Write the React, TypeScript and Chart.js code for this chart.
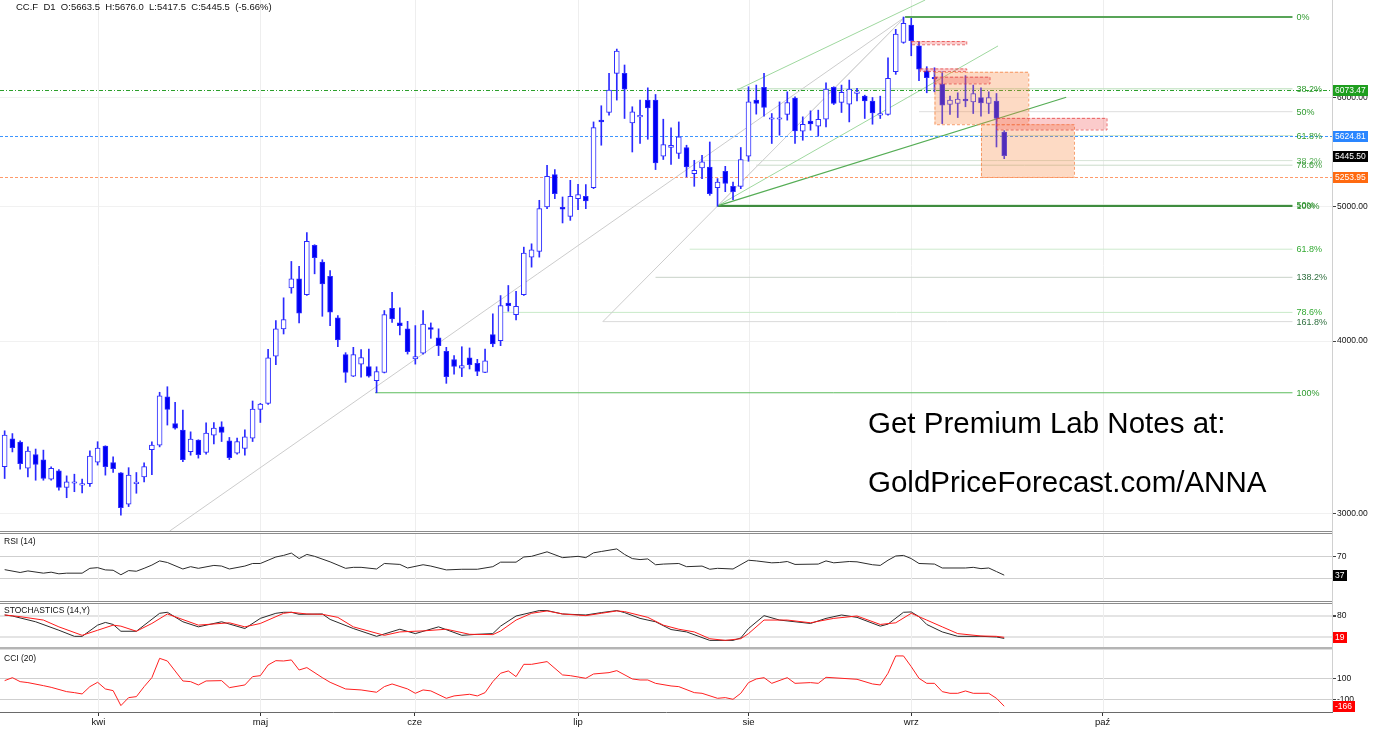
import React, { useEffect, useRef } from 'react';
import { Chart, registerables } from 'chart.js';

Chart.register(...registerables);

// ---------------- data ----------------
const candleOpen = [
  3246, 3399, 3381, 3237, 3312, 3282, 3179, 3223, 3135, 3157,
  3147, 3155, 3270, 3358, 3268, 3212, 3049, 3155, 3191, 3339,
  3364, 3645, 3487, 3449, 3328, 3392, 3323, 3420, 3468, 3388,
  3319, 3345, 3403, 3570, 3606, 3900, 4082, 4370, 4436, 4320,
  4690, 4561, 4455, 4157, 3910, 3772, 3849, 3834, 3744, 3796,
  4224, 4122, 4082, 3882, 3920, 4090, 4021, 3932, 3878, 3824,
  3889, 3854, 3796, 4043, 4002, 4260, 4180, 4320, 4599, 4643,
  4999, 5276, 4996, 4922, 5069, 5089, 5163, 5776, 5850, 6243,
  6243, 5750, 5808, 5972, 5972, 5439, 5519, 5465, 5519, 5285,
  5335, 5343, 5163, 5305, 5174, 5174, 5439, 5972, 6100, 5785,
  5785, 5831, 5991, 5671, 5766, 5718, 5785, 6100, 5948, 5932,
  6039, 6011, 5962, 5824, 5831, 6260, 6574, 6766, 6537, 6270,
  6202, 6133, 5929, 5938, 5982, 5954, 5998, 5938, 5962, 5663.5,
];
const candleHigh = [
  3445, 3429, 3388, 3354, 3342, 3336, 3244, 3230, 3196, 3205,
  3179, 3332, 3383, 3360, 3299, 3214, 3240, 3214, 3266, 3383,
  3673, 3707, 3612, 3566, 3439, 3394, 3491, 3493, 3497, 3407,
  3403, 3451, 3620, 3606, 3945, 4138, 4298, 4566, 4530, 4790,
  4695, 4579, 4498, 4173, 3923, 3958, 3943, 3947, 3832, 4208,
  4338, 4227, 4133, 4104, 4208, 4122, 4082, 3958, 3904, 3962,
  3954, 3880, 3947, 4185, 4314, 4387, 4345, 4676, 4702, 5055,
  5358, 5320, 5083, 5226, 5191, 5189, 5759, 5916, 6243, 6501,
  6331, 5906, 5972, 6095, 6028, 5785, 5702, 5759, 5540, 5403,
  5448, 5570, 5241, 5349, 5211, 5519, 6106, 6123, 6243, 5840,
  5954, 6055, 6005, 5808, 5866, 5873, 6146, 6106, 6123, 6174,
  6089, 6021, 5998, 6011, 6408, 6718, 6857, 6842, 6581, 6313,
  6302, 6260, 6011, 6045, 6220, 6123, 6095, 6055, 6038, 5676,
];
const candleLow = [
  3182, 3326, 3232, 3191, 3173, 3173, 3173, 3121, 3082, 3113,
  3107, 3141, 3254, 3200, 3214, 2994, 3037, 3105, 3164, 3203,
  3354, 3478, 3455, 3273, 3308, 3292, 3314, 3370, 3384, 3284,
  3314, 3308, 3384, 3493, 3600, 3845, 4047, 4331, 4122, 4315,
  4473, 4168, 4103, 3962, 3734, 3770, 3766, 3766, 3670, 3793,
  4126, 4040, 3914, 3849, 3914, 4018, 3904, 3728, 3786, 3770,
  3818, 3776, 3794, 3962, 3969, 4203, 4143, 4315, 4523, 4599,
  4985, 5069, 4868, 4889, 4977, 4985, 5154, 5540, 5824, 5972,
  5792, 5478, 5556, 5595, 5320, 5410, 5367, 5419, 5255, 5174,
  5241, 5097, 5005, 5128, 5061, 5154, 5394, 5834, 5814, 5556,
  5633, 5776, 5556, 5586, 5680, 5624, 5712, 5928, 5850, 5759,
  5965, 5792, 5737, 5792, 5824, 6233, 6564, 6429, 6167, 6045,
  6055, 5743, 5831, 5801, 5906, 5840, 5814, 5840, 5524, 5417.5,
];
const candleClose = [
  3420, 3350, 3262, 3330, 3257, 3182, 3237, 3135, 3164, 3164,
  3155, 3303, 3347, 3246, 3235, 3032, 3200, 3163, 3246, 3364,
  3651, 3570, 3460, 3284, 3398, 3311, 3432, 3461, 3435, 3295,
  3384, 3411, 3572, 3602, 3890, 4082, 4145, 4436, 4189, 4721,
  4594, 4399, 4196, 4007, 3796, 3910, 3892, 3772, 3801, 4180,
  4150, 4104, 3929, 3897, 4115, 4077, 3969, 3770, 3834, 3839,
  3845, 3803, 3871, 3981, 4243, 4243, 4238, 4630, 4656, 4985,
  5261, 5111, 4980, 5089, 5103, 5049, 5705, 5759, 6072, 6479,
  6082, 5856, 5821, 5895, 5379, 5546, 5540, 5617, 5343, 5314,
  5388, 5111, 5211, 5198, 5128, 5410, 5954, 5938, 5899, 5795,
  5798, 5948, 5674, 5735, 5741, 5785, 6082, 5938, 6049, 6082,
  6055, 5965, 5846, 5840, 6191, 6666, 6785, 6592, 6288, 6198,
  6187, 5922, 5972, 5982, 5965, 6038, 5944, 5998, 5792, 5445.5,
];

const monthTickIdx = [12.1, 33, 52.9, 74, 96, 117, 141.7];
const monthLabels = ['kwi', 'maj', 'cze', 'lip', 'sie', 'wrz', 'paź'];

const priceTicks = [3000, 4000, 5000, 6000];
const levelValues = [6073.47, 5624.81, 5253.95];

const fibPrices = [6857, 6085, 5858, 5630, 5400, 5359, 5017, 5008, 4660, 4447, 4195, 4131, 3670];
const fibLabels = ['0%', '38.2%', '50%', '61.8%', '38.2%', '78.6%', '50%', '100%', '61.8%', '138.2%', '78.6%', '161.8%', '100%'];
const fibStartIdx = [116.2, 94.5, 118, 118, 90, 97, 92, 92, 88.4, 84, 64, 77.2, 47.8];
const fibEndIdx = 166.2;

const trendLines = [
  [21.3, 2916, 116.2, 6857],
  [77.2, 4131, 116.2, 6857],
  [92, 5008, 116.2, 6857],
  [94.5, 6073, 118.8, 7054],
  [92, 5008, 128.2, 6535],
  [92, 5008, 137, 6000],
];

const redZones = [
  [117.0, 6589, 124.1, 6553],
  [118.1, 6295, 124.1, 6267],
  [120.0, 6209, 127.1, 6140],
  [128.0, 5798, 142.2, 5687],
];
const orangeZones = [
  [120.0, 6260, 132.1, 5737],
  [126.0, 5737, 138.0, 5256],
];

const rsiPoints = [
  [0, 47], [2, 41.8], [3, 44.7], [5, 40.6], [6, 42.4], [7, 39.4], [8, 40.6], [10, 40.6], [11, 49.4], [12, 50.6],
  [13, 46.5], [14, 45.9], [15, 37.7], [16, 45.3], [17, 44.1], [18, 49.4], [19, 55.3], [20, 62.9], [21, 60], [23, 48.2],
  [24, 52.4], [25, 49.4], [27, 54.7], [28, 53.5], [29, 48.2], [31, 53.5], [32, 58.2], [33, 58.2], [34, 64.1], [35, 70],
  [36, 72.9], [37, 77.1], [38, 67.1], [39, 74.7], [40, 71.2], [42, 61.2], [44, 49.4], [45, 51.2], [46, 51.2], [48, 48.2],
  [49, 58.2], [51, 56.5], [52, 50], [54, 55.9], [55, 53.5], [57, 46.5], [59, 47.7], [61, 47.7], [63, 52.4], [64, 60.6],
  [66, 60.6], [67, 70], [68, 71.2], [70, 79.4], [72, 68.8], [73, 70], [74, 71.2], [75, 68.8], [76, 77.6], [77, 80],
  [79, 84.7], [80, 74.7], [81, 67.1], [82, 65.3], [83, 66.5], [84, 55.9], [85, 57.1], [87, 58.2], [88, 52.4], [90, 53.5],
  [91, 47.7], [92, 49.4], [94, 48.2], [96, 64.1], [97, 62.9], [99, 59.4], [100, 60], [101, 61.8], [102, 56.5], [105, 57.1],
  [106, 62.9], [107, 59.4], [109, 61.8], [110, 61.2], [112, 55.9], [113, 54.7], [114, 64.1], [115, 71.8], [116, 72.9], [117, 67.1],
  [118, 58.2], [120, 57.1], [121, 50], [122, 50], [124, 50], [125, 51.2], [126, 48.8], [127, 50], [128, 43.5], [129, 37],
];

const stochK = [
  [0, 82.9], [1, 80], [4, 63.5], [7, 39.3], [9, 21.9], [10, 21.9], [12, 53.9], [13, 61.6], [14, 55.8], [15, 36.4],
  [17, 36.4], [20, 87.7], [21, 90.6], [23, 63.5], [25, 49], [28, 63.5], [31, 44.2], [33, 73.2], [35, 87.7], [36, 90.6],
  [37, 90.6], [38, 84.8], [41, 85.8], [42, 70.3], [45, 44.2], [48, 21.9], [51, 42.2], [53, 29.7], [56, 49], [59, 24.8],
  [61, 27.7], [63, 29.7], [64, 51], [66, 80], [69, 95.5], [70, 95.5], [72, 85.8], [75, 82.9], [77, 89.7], [79, 95.5],
  [80, 89.7], [82, 73.2], [84, 63.5], [86, 41.3], [88, 34.5], [91, 10.3], [94, 10.3], [95, 17.1], [96, 44.2], [98, 81],
  [100, 68.4], [104, 58.7], [106, 73.2], [108, 82.9], [110, 76.1], [113, 51], [114, 56.8], [116, 90.6], [117, 91.6], [118, 78.1],
  [119, 55.8], [121, 34.5], [123, 21.9], [126, 21.9], [128, 20], [129, 16],
];
const stochD = [
  [0, 82.9], [2, 78.1], [5, 68.4], [7, 49], [10, 24.8], [12, 39.3], [14, 53.9], [15, 51], [17, 36.4], [19, 58.7],
  [21, 85.8], [25, 53.9], [29, 60.6], [31, 49], [33, 58.7], [36, 87.7], [37, 90.6], [39, 85.8], [41, 84.8], [43, 76.1],
  [45, 49], [49, 24.8], [51, 34.5], [54, 37.4], [57, 42.2], [60, 27.7], [63, 26.8], [64, 37], [66, 68.4], [68, 87.7],
  [70, 94.5], [72, 85.8], [75, 81], [77, 87.7], [79, 94.5], [80, 92.6], [83, 76.1], [85, 53.9], [87, 42.2], [89, 34.5],
  [91, 15.1], [93, 10.3], [95, 15.1], [96, 29.7], [98, 68.4], [101, 68.4], [104, 60.6], [107, 73.2], [110, 80], [113, 55.8],
  [115, 60.6], [117, 87.7], [119, 68.4], [121, 49], [123, 29.7], [126, 22.9], [128, 21.9], [129, 19],
];

const cciPoints = [
  [0, 77.8], [1, 106], [2, 68], [3, 59], [5, 30], [6, 14], [8, -27], [9, -36.5], [10, -49], [11, 20.6],
  [12, 62], [13, -1.6], [14, -17.5], [15, -160], [16, -84], [17, -74.6], [18, 20.6], [19, 106], [20, 290], [21, 265],
  [23, 74.6], [24, 68], [25, 36.5], [26, 74.6], [28, 77.8], [29, 11], [31, 36.5], [32, 116], [33, 125], [34, 227],
  [35, 268], [36, 265], [37, 275], [38, 179], [39, 202], [41, 106], [42, 62], [44, -1.6], [46, -11], [48, -33],
  [49, 20.6], [50, 46], [52, -1.6], [53, -43], [54, -11], [55, -20], [57, -90.5], [58, -68], [60, -52], [61, -68],
  [62, -36.5], [63, 68], [64, 148], [65, 170], [66, 116], [67, 233], [68, 233], [70, 259], [72, 132], [73, 125],
  [75, 100], [76, 141], [78, 154], [79, 173], [81, 93.7], [82, 84], [83, 84], [84, 52], [86, 27], [87, 20.6],
  [89, -36.5], [90, -43], [92, -90.5], [93, -84], [94, -100], [95, -43], [96, 59], [97, 93.7], [98, 106], [99, 52],
  [101, 106], [102, 52], [104, 59], [105, 52], [106, 109.5], [110, 90.5], [112, 46], [113, 36.5], [114, 148], [115, 313],
  [116, 313], [117, 211], [118, 100], [119, 52], [120, 52], [121, -27], [122, -43], [123, -43], [124, -20.6], [125, -43],
  [127, -43], [128, -90.5], [129, -166],
];

const rsiTicks = [70, 30];
const stochTicks = [80, 20];
const cciTicks = [100, -100];

// ---------------- styles / layout ----------------
const FONT = '"Liberation Sans", Arial, Helvetica, sans-serif';
const X_MIN = -0.6;
const X_MAX = 171.3;
const AXIS_W = 53;
const W = 1385;
const CANDLE_FILL = '#0000f2';
const CANDLE_LINE = '#2a2aff';
const levelColors = ['#2ca02c', '#3d95ff', '#ff9a6a'];
const badgeLevelColors = ['#1e9e1e', '#2a86ff', '#ff6a10'];
const fibLineColors = ['#58a458', '#b8deb8', '#dddddd', '#cfe8cf', '#d6e4d6', '#cadbca', '#cfe8cf', '#3f8c3f', '#cdeacd', '#c8d2c8', '#c8eac8', '#dadada', '#5cbc5c'];
const fibLineWidths = [2, 1, 1, 1, 1, 1, 1, 2, 1, 1, 1, 1, 1];
const fibLabelColors = ['#2f9a2f', '#2f9a2f', '#2f9a2f', '#2f9a2f', '#5aaf5a', '#3c9c3c', '#2f9a2f', '#2a8a2a', '#33aa33', '#2f6f3f', '#33aa33', '#2f6f3f', '#2f9a2f'];
const trendColors = ['#cccccc', '#cccccc', '#d4d4d4', '#9fd89f', '#9fd89f', '#55ad55'];

function drawBadge(ctx: any, x: number, y: number, text: string, bg: string) {
  ctx.save();
  ctx.font = `8.5px ${FONT}`;
  const w = Math.ceil(ctx.measureText(text).width) + 4;
  const yy = Math.round(y);
  ctx.fillStyle = bg;
  ctx.fillRect(x, yy - 5, w, 11);
  ctx.fillStyle = '#ffffff';
  ctx.textAlign = 'left';
  ctx.textBaseline = 'middle';
  ctx.fillText(text, x + 2, yy + 0.5);
  ctx.restore();
}

function drawMonthLines(chart: any) {
  const { ctx, chartArea: a } = chart;
  const xs = chart.scales.x;
  ctx.save();
  ctx.strokeStyle = '#eeeeee';
  ctx.lineWidth = 1;
  monthTickIdx.forEach((m) => {
    const x = Math.round(xs.getPixelForValue(m)) + 0.5;
    ctx.beginPath();
    ctx.moveTo(x, a.top);
    ctx.lineTo(x, a.bottom);
    ctx.stroke();
  });
  ctx.restore();
}

const mainPlugin = {
  id: 'mainOverlay',
  beforeDatasetsDraw(chart: any) {
    const { ctx, chartArea: a } = chart;
    const xs = chart.scales.x;
    const ys = chart.scales.y;
    drawMonthLines(chart);
    ctx.save();
    ctx.beginPath();
    ctx.rect(a.left, a.top, a.right - a.left, a.bottom - a.top);
    ctx.clip();
    fibPrices.forEach((p, i) => {
      const y = ys.getPixelForValue(p);
      ctx.strokeStyle = fibLineColors[i];
      ctx.lineWidth = fibLineWidths[i];
      ctx.beginPath();
      ctx.moveTo(xs.getPixelForValue(fibStartIdx[i]), y);
      ctx.lineTo(xs.getPixelForValue(fibEndIdx), y);
      ctx.stroke();
    });
    trendLines.forEach((t, i) => {
      ctx.strokeStyle = trendColors[i];
      ctx.lineWidth = i === 5 ? 1.2 : 1;
      ctx.beginPath();
      ctx.moveTo(xs.getPixelForValue(t[0]), ys.getPixelForValue(t[1]));
      ctx.lineTo(xs.getPixelForValue(t[2]), ys.getPixelForValue(t[3]));
      ctx.stroke();
    });
    levelValues.forEach((v, i) => {
      const y = Math.round(ys.getPixelForValue(v)) + 0.5;
      ctx.strokeStyle = levelColors[i];
      ctx.lineWidth = 1;
      ctx.setLineDash(i === 0 ? [4, 2, 1, 2] : [3, 2]);
      ctx.beginPath();
      ctx.moveTo(a.left, y);
      ctx.lineTo(a.right, y);
      ctx.stroke();
    });
    ctx.setLineDash([]);
    ctx.restore();
  },
  afterDatasetsDraw(chart: any) {
    const { ctx, chartArea: a } = chart;
    const xs = chart.scales.x;
    const ys = chart.scales.y;
    ctx.save();
    ctx.beginPath();
    ctx.rect(a.left, a.top, a.right - a.left, a.bottom - a.top);
    ctx.clip();
    const box = (z: number[], fill: string, stroke: string) => {
      const x1 = xs.getPixelForValue(z[0]);
      const x2 = xs.getPixelForValue(z[2]);
      const y1 = ys.getPixelForValue(z[1]);
      const y2 = ys.getPixelForValue(z[3]);
      ctx.fillStyle = fill;
      ctx.fillRect(x1, y1, x2 - x1, y2 - y1);
      ctx.strokeStyle = stroke;
      ctx.lineWidth = 1;
      ctx.setLineDash([3, 2]);
      ctx.strokeRect(x1 + 0.5, y1 + 0.5, x2 - x1, y2 - y1);
      ctx.setLineDash([]);
    };
    orangeZones.forEach((z) => box(z, 'rgba(250,140,70,0.32)', 'rgba(245,140,80,0.85)'));
    redZones.forEach((z) => box(z, 'rgba(240,70,70,0.28)', 'rgba(225,60,60,0.75)'));
    ctx.restore();
  },
  afterDraw(chart: any) {
    const { ctx, chartArea: a } = chart;
    const xs = chart.scales.x;
    const ys = chart.scales.y;
    ctx.save();
    ctx.font = `9px ${FONT}`;
    ctx.textAlign = 'left';
    ctx.textBaseline = 'middle';
    const lx = xs.getPixelForValue(fibEndIdx) + 4;
    fibPrices.forEach((p, i) => {
      ctx.fillStyle = fibLabelColors[i];
      ctx.fillText(fibLabels[i], lx, ys.getPixelForValue(p) + 0.5);
    });
    ctx.restore();
    const bx = a.right + 1;
    drawBadge(ctx, bx, ys.getPixelForValue(levelValues[0]), levelValues[0].toFixed(2), badgeLevelColors[0]);
    drawBadge(ctx, bx, ys.getPixelForValue(levelValues[1]), levelValues[1].toFixed(2), badgeLevelColors[1]);
    const lastClose = candleClose[candleClose.length - 1];
    drawBadge(ctx, bx, ys.getPixelForValue(lastClose), lastClose.toFixed(2), '#000000');
    drawBadge(ctx, bx, ys.getPixelForValue(levelValues[2]), levelValues[2].toFixed(2), badgeLevelColors[2]);
  },
};

const panelPlugin = {
  id: 'panelOverlay',
  beforeDatasetsDraw(chart: any) {
    drawMonthLines(chart);
  },
  afterDraw(chart: any, _args: any, opts: any) {
    if (!opts || !opts.badgeText) return;
    const y = chart.scales.y.getPixelForValue(opts.badgeValue);
    drawBadge(chart.ctx, chart.chartArea.right + 1, y, opts.badgeText, opts.badgeColor);
  },
};

function fixY(s: any) {
  s.width = AXIS_W;
  s.paddingTop = 0;
  s.paddingBottom = 0;
}

function makeMainChart(canvas: HTMLCanvasElement) {
  const wick = candleOpen.map((_, i) => ({ x: i, y: [candleLow[i], candleHigh[i]] }));
  const body = candleOpen.map((o, i) => ({ x: i, y: [Math.min(o, candleClose[i]), Math.max(o, candleClose[i])] }));
  const up = candleOpen.map((o, i) => candleClose[i] >= o);
  return new Chart(canvas, {
    type: 'bar',
    data: {
      datasets: [
        {
          data: body as any,
          order: 0,
          grouped: false,
          barThickness: 5,
          minBarLength: 1.5,
          borderWidth: 1,
          borderSkipped: false,
          borderColor: CANDLE_LINE,
          backgroundColor: up.map((u) => (u ? '#ffffff' : CANDLE_FILL)),
        } as any,
        {
          data: wick as any,
          order: 1,
          grouped: false,
          barThickness: 1,
          borderWidth: 0,
          backgroundColor: CANDLE_LINE,
        } as any,
      ],
    },
    options: {
      responsive: false,
      animation: false,
      events: [],
      layout: { padding: 0, autoPadding: false } as any,
      plugins: { legend: { display: false }, tooltip: { enabled: false } },
      scales: {
        x: { type: 'linear', min: X_MIN, max: X_MAX, display: false, offset: false, bounds: 'data' } as any,
        y: {
          type: 'logarithmic',
          position: 'right',
          min: 2916,
          max: 7054,
          bounds: 'data',
          afterBuildTicks: (s: any) => {
            s.ticks = priceTicks.map((v) => ({ value: v }));
          },
          afterFit: fixY,
          ticks: {
            autoSkip: false,
            padding: 1,
            color: '#111111',
            font: { size: 8.5, family: FONT },
            callback: (v: any) => Number(v).toFixed(2),
          },
          grid: { color: '#f1f1f1', tickLength: 4, tickColor: '#444444' },
          border: { display: false },
        } as any,
      },
    },
    plugins: [mainPlugin],
  });
}

function makeSubChart(
  canvas: HTMLCanvasElement,
  series: { points: number[][]; color: string }[],
  yMin: number,
  yMax: number,
  ticks: number[],
  badgeValue: number,
  badgeColor: string,
  showX: boolean,
  gridColor: string,
  gridWidth: number,
) {
  return new Chart(canvas, {
    type: 'line',
    data: {
      datasets: series.map((s) => ({
        data: s.points.map((p) => ({ x: p[0], y: p[1] })),
        borderColor: s.color,
        borderWidth: 1,
        pointRadius: 0,
        tension: 0,
        fill: false,
      })) as any,
    },
    options: {
      responsive: false,
      animation: false,
      events: [],
      layout: { padding: 0, autoPadding: false } as any,
      plugins: {
        legend: { display: false },
        tooltip: { enabled: false },
        panelOverlay: { badgeValue, badgeText: String(Math.round(badgeValue)), badgeColor },
      } as any,
      scales: {
        x: {
          type: 'linear',
          min: X_MIN,
          max: X_MAX,
          bounds: 'data',
          display: showX,
          offset: false,
          afterBuildTicks: (s: any) => {
            s.ticks = monthTickIdx.map((v) => ({ value: v }));
          },
          afterFit: (s: any) => {
            s.height = showX ? 19 : 0;
            s.paddingLeft = 0;
            s.paddingRight = 0;
          },
          ticks: {
            autoSkip: false,
            maxRotation: 0,
            padding: 1,
            color: '#111111',
            font: { size: 9.5, family: FONT },
            callback: (_v: any, i: number) => monthLabels[i],
          },
          grid: { drawOnChartArea: false, tickLength: 4, tickColor: '#333333' },
          border: { color: '#6a6a6a', width: 1 },
        } as any,
        y: {
          type: 'linear',
          position: 'right',
          min: yMin,
          max: yMax,
          bounds: 'data',
          afterBuildTicks: (s: any) => {
            s.ticks = ticks.map((v) => ({ value: v }));
          },
          afterFit: fixY,
          ticks: {
            autoSkip: false,
            padding: 1,
            color: '#111111',
            font: { size: 8.5, family: FONT },
            callback: (v: any) => String(v),
          },
          grid: { color: gridColor, lineWidth: gridWidth, tickLength: 4, tickColor: '#444444' },
          border: { display: false },
        } as any,
      },
    },
    plugins: [panelPlugin],
  });
}

const last = (pts: number[][]) => pts[pts.length - 1][1];

export default function App() {
  const mainRef = useRef<HTMLCanvasElement>(null);
  const rsiRef = useRef<HTMLCanvasElement>(null);
  const stochRef = useRef<HTMLCanvasElement>(null);
  const cciRef = useRef<HTMLCanvasElement>(null);

  useEffect(() => {
    const charts: Chart[] = [];
    charts.push(makeMainChart(mainRef.current as HTMLCanvasElement));
    charts.push(
      makeSubChart(rsiRef.current as HTMLCanvasElement, [{ points: rsiPoints, color: '#2b2b2b' }], -10, 111.8, rsiTicks, last(rsiPoints), '#000000', false, '#cfcfcf', 1),
    );
    charts.push(
      makeSubChart(
        stochRef.current as HTMLCanvasElement,
        [
          { points: stochD, color: '#ff1a1a' },
          { points: stochK, color: '#2b2b2b' },
        ],
        -8.6,
        114.3,
        stochTicks,
        last(stochD),
        '#ff0000',
        false,
        '#e4e4e4',
        2,
      ),
    );
    charts.push(
      makeSubChart(cciRef.current as HTMLCanvasElement, [{ points: cciPoints, color: '#ff2020' }], -221, 369.5, cciTicks, last(cciPoints), '#ff0000', true, '#cfcfcf', 1),
    );
    return () => charts.forEach((c) => c.destroy());
  }, []);

  const abs = (top: number, h: number): React.CSSProperties => ({ position: 'absolute', left: 0, top, width: W, height: h });
  const sep = (top: number, h: number, color: string): React.CSSProperties => ({ position: 'absolute', left: 0, top, width: 1332, height: h, background: color });
  const title: React.CSSProperties = { position: 'absolute', left: 4, fontSize: 8.5, lineHeight: '10px', color: '#111', whiteSpace: 'pre' };

  return (
    <div style={{ position: 'fixed', left: 0, top: 0, width: W, height: 731, background: '#ffffff', fontFamily: FONT, overflow: 'hidden' }}>
      <canvas ref={mainRef} width={W} height={531} style={abs(0, 531)} />
      <canvas ref={rsiRef} width={W} height={67} style={abs(534, 67)} />
      <canvas ref={stochRef} width={W} height={43} style={abs(604, 43)} />
      <canvas ref={cciRef} width={W} height={81} style={abs(650, 81)} />
      <div style={sep(531, 1, '#8c8c8c')} />
      <div style={sep(533, 1, '#8c8c8c')} />
      <div style={sep(601, 1, '#8c8c8c')} />
      <div style={sep(603, 1, '#8c8c8c')} />
      <div style={sep(647, 2, '#b4b4b4')} />
      <div style={sep(649, 1, '#dddddd')} />
      <div style={{ position: 'absolute', left: 1332, top: 0, width: 1, height: 712, background: '#d0d0d0' }} />
      <div style={{ position: 'absolute', left: 16, top: 2, fontSize: 9.5, lineHeight: '10px', color: '#111', whiteSpace: 'pre' }}>
        {'CC.F  D1  O:5663.5  H:5676.0  L:5417.5  C:5445.5  (-5.66%)'}
      </div>
      <div style={{ ...title, top: 536 }}>RSI (14)</div>
      <div style={{ ...title, top: 605 }}>STOCHASTICS (14,Y)</div>
      <div style={{ ...title, top: 653 }}>CCI (20)</div>
      <div style={{ position: 'absolute', left: 868, top: 408, fontSize: 29.5, lineHeight: 1, color: '#000', whiteSpace: 'pre' }}>Get Premium Lab Notes at:</div>
      <div style={{ position: 'absolute', left: 868, top: 467, fontSize: 29.5, lineHeight: 1, color: '#000', whiteSpace: 'pre' }}>GoldPriceForecast.com/ANNA</div>
    </div>
  );
}
